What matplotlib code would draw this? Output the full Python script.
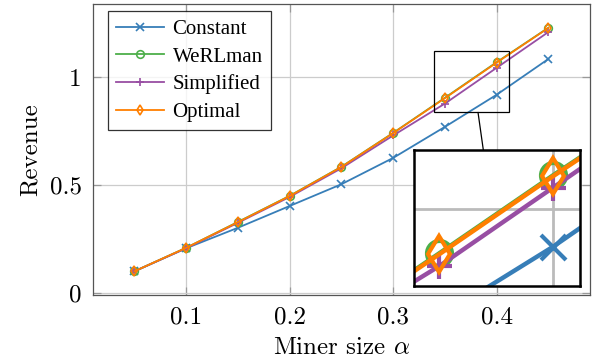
import matplotlib

matplotlib.use("Agg")  # headless
import matplotlib.pyplot as plt
from matplotlib.patches import Rectangle, ConnectionPatch

alpha = [0.05, 0.10, 0.15, 0.20, 0.25, 0.30, 0.35, 0.40, 0.45]
constant = [0.100, 0.207, 0.302, 0.403, 0.504, 0.626, 0.770, 0.919, 1.085]
werlman = [0.100, 0.209, 0.329, 0.450, 0.585, 0.742, 0.905, 1.070, 1.230]
simplified = [0.100, 0.207, 0.325, 0.445, 0.578, 0.730, 0.878, 1.044, 1.210]
optimal = [0.100, 0.209, 0.328, 0.449, 0.584, 0.741, 0.903, 1.068, 1.229]

xticks = [0.1, 0.2, 0.3, 0.4]
yticks = [0, 0.5, 1]
ytick_labels = ["0", "0.5", "1"]

series = [
    ("Constant", constant, "#377eb8", "x"),
    ("WeRLman", werlman, "#4daf4a", "o"),
    ("Simplified", simplified, "#984ea3", "+"),
    ("Optimal", optimal, "#ff7f00", "d"),
]

plt.rcParams["font.family"] = "cmr10"
plt.rcParams["mathtext.fontset"] = "cm"
plt.rcParams["axes.formatter.use_mathtext"] = True

fig = plt.figure(figsize=(6, 3.62), dpi=100)
ax = fig.add_axes([0.155, 0.185, 0.828, 0.804])

for name, vals, col, mk in series:
    ax.plot(alpha, vals, color=col, lw=1.3, marker=mk, ms=5.5, mew=1.2,
            mfc="none", label=name)

ax.set_xlim(0.01, 0.49)
ax.set_ylim(-0.01, 1.34)
ax.set_xticks(xticks)
ax.set_xticklabels([f"{t:.1f}" for t in xticks])
ax.set_yticks(yticks)
ax.set_yticklabels(ytick_labels)
ax.grid(True, color="#cccccc", lw=0.9)
ax.set_axisbelow(True)
ax.tick_params(direction="in", top=True, right=True, length=6, width=0.9,
               color="#999999", labelsize=18, pad=8)
for sp in ax.spines.values():
    sp.set_color("#555555")
    sp.set_linewidth(0.9)
ax.set_xlabel(r"Miner size $\alpha$", fontsize=18, labelpad=6)
ax.set_ylabel("Revenue", fontsize=18, labelpad=6)

leg = ax.legend(loc="upper left", bbox_to_anchor=(0.03, 0.975),
                prop={"family": "Liberation Serif", "size": 15},
                frameon=True, fancybox=False, edgecolor="black",
                handlelength=2.3, handletextpad=0.4, borderpad=0.4,
                labelspacing=0.38, borderaxespad=0.0)
leg.get_frame().set_linewidth(0.9)

# zoomed region
x0, x1, y0, y1 = 0.339, 0.412, 0.837, 1.124
ax.add_patch(Rectangle((x0, y0), x1 - x0, y1 - y0, fill=False,
                       ec="black", lw=0.9, zorder=5))

axins = fig.add_axes([0.69, 0.211, 0.277, 0.375])
for name, vals, col, mk in series:
    axins.plot(alpha, vals, color=col, lw=3.2, marker=mk, ms=18, mew=3.0,
               mfc="none")
axins.set_xlim(x0, x1)
axins.set_ylim(y0, y1)
axins.set_xticks([0.4])
axins.set_yticks([1.0])
axins.grid(True, color="#bbbbbb", lw=2.0)
axins.set_axisbelow(True)
axins.tick_params(length=0, labelbottom=False, labelleft=False)
for sp in axins.spines.values():
    sp.set_color("black")
    sp.set_linewidth(1.8)

con = ConnectionPatch(xyA=(0.382, y0), coordsA=ax.transData,
                      xyB=(0.417, 1.0), coordsB=axins.transAxes,
                      color="black", lw=0.9)
fig.add_artist(con)

fig.savefig("out.png", dpi=100)
